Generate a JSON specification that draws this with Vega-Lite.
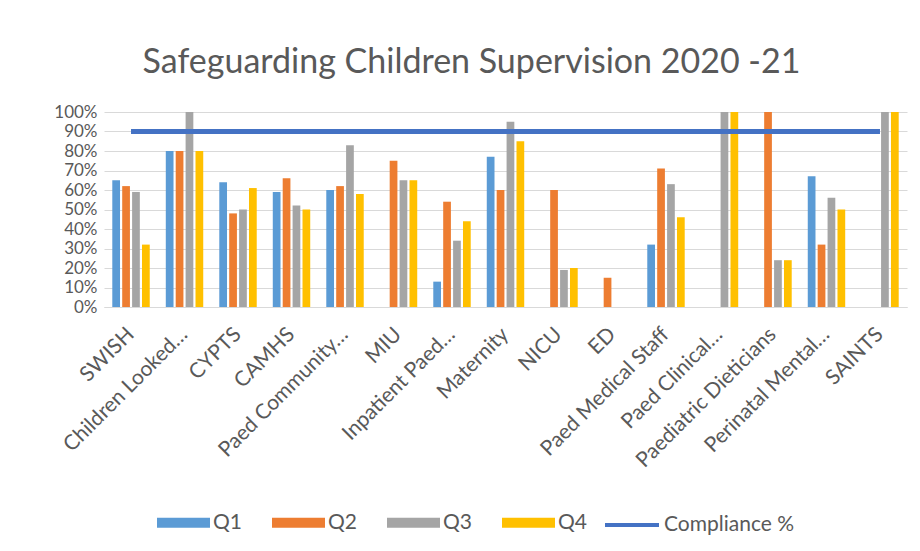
{
  "$schema": "https://vega.github.io/schema/vega-lite/v6.json",
  "autosize": "none",
  "width": 803,
  "height": 195,
  "padding": {"left": 104, "top": 112, "right": 13, "bottom": 244},
  "background": "white",
  "title": {
    "text": "Safeguarding Children Supervision 2020 -21",
    "font": "Lato",
    "fontSize": 34,
    "fontWeight": "normal",
    "color": "#595959",
    "anchor": "middle",
    "dx": -34,
    "offset": 23
  },
  "data": {
    "values": [
      {"team": "SWISH", "Q1": 0.65, "Q2": 0.62, "Q3": 0.59, "Q4": 0.32, "Compliance": 0.9},
      {"team": "Children Looked…", "Q1": 0.80, "Q2": 0.80, "Q3": 1.00, "Q4": 0.80, "Compliance": 0.9},
      {"team": "CYPTS", "Q1": 0.64, "Q2": 0.48, "Q3": 0.50, "Q4": 0.61, "Compliance": 0.9},
      {"team": "CAMHS", "Q1": 0.59, "Q2": 0.66, "Q3": 0.52, "Q4": 0.50, "Compliance": 0.9},
      {"team": "Paed Community…", "Q1": 0.60, "Q2": 0.62, "Q3": 0.83, "Q4": 0.58, "Compliance": 0.9},
      {"team": "MIU", "Q1": null, "Q2": 0.75, "Q3": 0.65, "Q4": 0.65, "Compliance": 0.9},
      {"team": "Inpatient Paed…", "Q1": 0.13, "Q2": 0.54, "Q3": 0.34, "Q4": 0.44, "Compliance": 0.9},
      {"team": "Maternity", "Q1": 0.77, "Q2": 0.60, "Q3": 0.95, "Q4": 0.85, "Compliance": 0.9},
      {"team": "NICU", "Q1": null, "Q2": 0.60, "Q3": 0.19, "Q4": 0.20, "Compliance": 0.9},
      {"team": "ED", "Q1": null, "Q2": 0.15, "Q3": null, "Q4": null, "Compliance": 0.9},
      {"team": "Paed Medical Staff", "Q1": 0.32, "Q2": 0.71, "Q3": 0.63, "Q4": 0.46, "Compliance": 0.9},
      {"team": "Paed Clinical…", "Q1": null, "Q2": null, "Q3": 1.00, "Q4": 1.00, "Compliance": 0.9},
      {"team": "Paediatric Dieticians", "Q1": null, "Q2": 1.00, "Q3": 0.24, "Q4": 0.24, "Compliance": 0.9},
      {"team": "Perinatal Mental…", "Q1": 0.67, "Q2": 0.32, "Q3": 0.56, "Q4": 0.50, "Compliance": 0.9},
      {"team": "SAINTS", "Q1": null, "Q2": null, "Q3": 1.00, "Q4": 1.00, "Compliance": 0.9}
    ]
  },
  "encoding": {
    "x": {
      "field": "team",
      "type": "nominal",
      "sort": null,
      "scale": {"paddingInner": 0.3, "paddingOuter": 0.155},
      "axis": {
        "title": null,
        "labelAngle": -45,
        "labelAlign": "right",
        "labelBaseline": "middle",
        "labelFont": "Lato",
        "labelFontSize": 21,
        "labelColor": "#595959",
        "labelPadding": 24,
        "labelDx": 4,
        "labelDy": 6,
        "ticks": false,
        "domainColor": "#D9D9D9",
        "labelLimit": 300
      }
    }
  },
  "layer": [
    {
      "transform": [{"fold": ["Q1", "Q2", "Q3", "Q4"], "as": ["quarter", "value"]}],
      "mark": {"type": "bar"},
      "encoding": {
        "xOffset": {"field": "quarter", "type": "nominal", "scale": {"paddingInner": 0.22, "paddingOuter": 0}},
        "y": {
          "field": "value",
          "type": "quantitative",
          "scale": {"domain": [0, 1]},
          "axis": {
            "title": null,
            "format": ".0%",
            "values": [0, 0.1, 0.2, 0.3, 0.4, 0.5, 0.6, 0.7, 0.8, 0.9, 1.0],
            "labelFont": "Lato",
            "labelFontSize": 17,
            "labelColor": "#595959",
            "labelPadding": 7,
            "ticks": false,
            "domain": false,
            "gridColor": "#D9D9D9",
            "labelOverlap": false
          }
        },
        "color": {
          "field": "quarter",
          "type": "nominal",
          "scale": {"domain": ["Q1", "Q2", "Q3", "Q4"], "range": ["#5B9BD5", "#ED7D31", "#A5A5A5", "#FFC000"]},
          "legend": {
            "title": null,
            "orient": "none",
            "direction": "horizontal",
            "legendX": 53,
            "legendY": 384,
            "symbolType": "M-1,-0.19H1V0.19H-1Z",
            "symbolSize": 2809,
            "symbolStrokeWidth": 0,
            "labelFont": "Lato",
            "labelFontSize": 21,
            "labelColor": "#595959",
            "labelOffset": 3,
            "columnPadding": 30
          }
        }
      }
    },
    {
      "mark": {"type": "line", "strokeWidth": 5},
      "encoding": {
        "y": {
          "field": "Compliance",
          "type": "quantitative",
          "axis": {
            "title": null,
            "format": ".0%",
            "values": [0, 0.1, 0.2, 0.3, 0.4, 0.5, 0.6, 0.7, 0.8, 0.9, 1.0],
            "labelFont": "Lato",
            "labelFontSize": 17,
            "labelColor": "#595959",
            "labelPadding": 7,
            "ticks": false,
            "domain": false,
            "gridColor": "#D9D9D9",
            "labelOverlap": false
          }
        },
        "stroke": {
          "datum": "Compliance %",
          "type": "nominal",
          "scale": {"domain": ["Compliance %"], "range": ["#4472C4"]},
          "legend": {
            "title": null,
            "orient": "none",
            "legendX": 499,
            "legendY": 384,
            "symbolType": "stroke",
            "symbolSize": 2916,
            "symbolStrokeWidth": 4,
            "labelFont": "Lato",
            "labelFontSize": 21,
            "labelColor": "#595959",
            "labelOffset": 3
          }
        }
      }
    }
  ],
  "config": {
    "view": {"stroke": null}
  }
}
